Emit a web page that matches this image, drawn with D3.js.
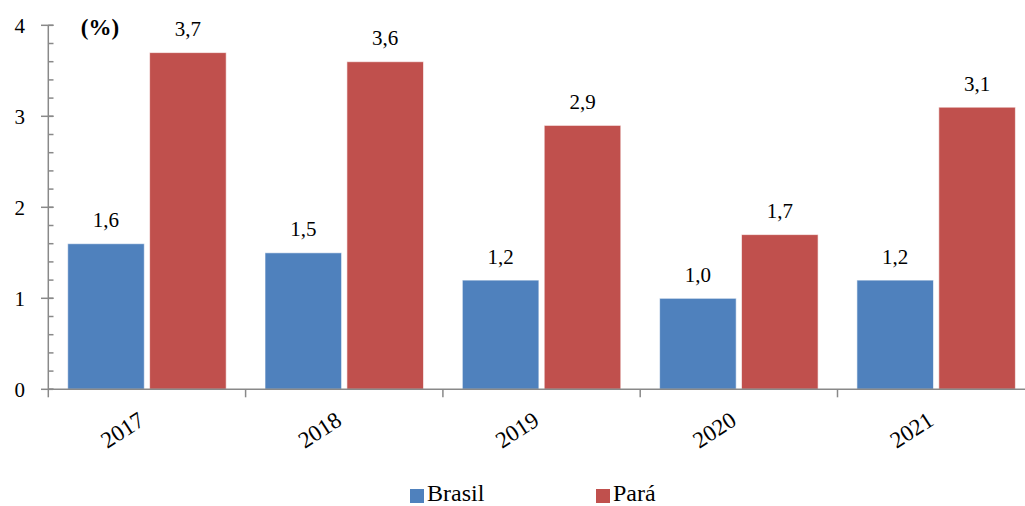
<!DOCTYPE html>
<html><head><meta charset="utf-8">
<script src="https://cdn.jsdelivr.net/npm/d3@7"></script>
<style>
@font-face { font-family: "ChartSerif"; src: local("Liberation Serif"), local("LiberationSerif"), local("Times New Roman"); font-weight: normal; }
@font-face { font-family: "ChartSerif"; src: local("Liberation Serif Bold"), local("LiberationSerif-Bold"), local("Times New Roman Bold"); font-weight: bold; }
body{margin:0;background:#fff}
</style>
</head><body>
<svg id="c" width="1025" height="506"></svg>
<script>
const years = ["2017","2018","2019","2020","2021"];
const seriesNames = ["Brasil","Pará"];
const brasil = [1.6,1.5,1.2,1.0,1.2];
const para = [3.7,3.6,2.9,1.7,3.1];
const yTicks = [0,1,2,3,4];
const colors = ["#4F81BD","#C0504D"];
const values = [brasil, para];

const FONT = '"Liberation Serif", "ChartSerif", "Times New Roman", serif';
const svg = d3.select("#c");
const axisColor = "#898989";
const x0 = d3.scaleBand().domain(years).range([48.3, 48.3 + 5*197.3]).padding(0);
const x1 = d3.scaleBand().domain(seriesNames).range([0, x0.bandwidth()]).paddingInner(0.065).paddingOuter(0.237);
const y = d3.scaleLinear().domain([0,4]).range([389.3, 25.3]);
const fmt = v => d3.format(".1f")(v).replace(".", ",");

function txt(sel, size) {
  return sel.attr("font-family", FONT).style("font-family", FONT, "important")
    .attr("font-size", size).style("font-size", size + "px", "important").attr("fill", "#000");
}

// bars
seriesNames.forEach((s, si) => {
  const g = svg.append("g");
  g.selectAll("rect").data(years).join("rect")
    .attr("x", d => x0(d) + x1(s))
    .attr("y", (d,i) => y(values[si][i]))
    .attr("width", x1.bandwidth())
    .attr("height", (d,i) => y(0) - y(values[si][i]))
    .attr("fill", colors[si])
    .attr("stroke", "#ffffff").attr("stroke-opacity", 0.6).attr("stroke-width", 1);
  txt(g.selectAll("text").data(years).join("text"), 21)
    .attr("x", d => x0(d) + x1(s) + x1.bandwidth()/2)
    .attr("y", (d,i) => y(values[si][i]) - 16.5)
    .attr("text-anchor", "middle")
    .text((d,i) => fmt(values[si][i]));
});

// y axis
const yAxis = svg.append("g");
yAxis.append("line").attr("x1", 48.3).attr("x2", 48.3).attr("y1", y(4)).attr("y2", y(0))
  .attr("stroke", axisColor).attr("stroke-width", 1.5);
const minor = d3.range(0, 4.0001, 0.2);
yAxis.selectAll("line.minor").data(minor).join("line").attr("class","minor")
  .attr("x1", 48.3).attr("x2", 53.5).attr("y1", d => y(d)).attr("y2", d => y(d))
  .attr("stroke", axisColor).attr("stroke-width", 1.5);
yAxis.selectAll("line.major").data(yTicks).join("line").attr("class","major")
  .attr("x1", 41).attr("x2", 53.5).attr("y1", d => y(d)).attr("y2", d => y(d))
  .attr("stroke", axisColor).attr("stroke-width", 1.5);
txt(yAxis.selectAll("text").data(yTicks).join("text"), 21)
  .attr("x", 25).attr("y", d => y(d) + 7.5)
  .attr("text-anchor", "end").text(d => d);

txt(svg.append("text"), 23).attr("x", 100).attr("y", 35).attr("text-anchor", "middle")
  .attr("font-weight", "bold").style("font-weight", "bold").text("(%)");

// x axis
const xAxis = svg.append("g");
xAxis.append("line").attr("x1", 48.3).attr("x2", 48.3 + 5*197.3).attr("y1", y(0)).attr("y2", y(0))
  .attr("stroke", axisColor).attr("stroke-width", 1.5);
const bounds = years.map(d => x0(d)).concat([x0.range()[1]]);
xAxis.selectAll("line.t").data(bounds).join("line").attr("class","t")
  .attr("x1", d => d).attr("x2", d => d).attr("y1", y(0)).attr("y2", y(0) + 8)
  .attr("stroke", axisColor).attr("stroke-width", 1.5);
txt(xAxis.selectAll("text").data(years).join("text"), 23)
  .attr("transform", d => `translate(${x0(d) + x0.bandwidth()/2 - 1},${424}) rotate(-33)`)
  .attr("text-anchor", "end").text(d => d);

// legend
const legX = [410, 596];
seriesNames.forEach((s, i) => {
  svg.append("rect").attr("x", legX[i]).attr("y", 489).attr("width", 14).attr("height", 14).attr("fill", colors[i]);
  txt(svg.append("text"), 24).attr("x", legX[i] + 17).attr("y", 501).text(s);
});
</script>
</body></html>
